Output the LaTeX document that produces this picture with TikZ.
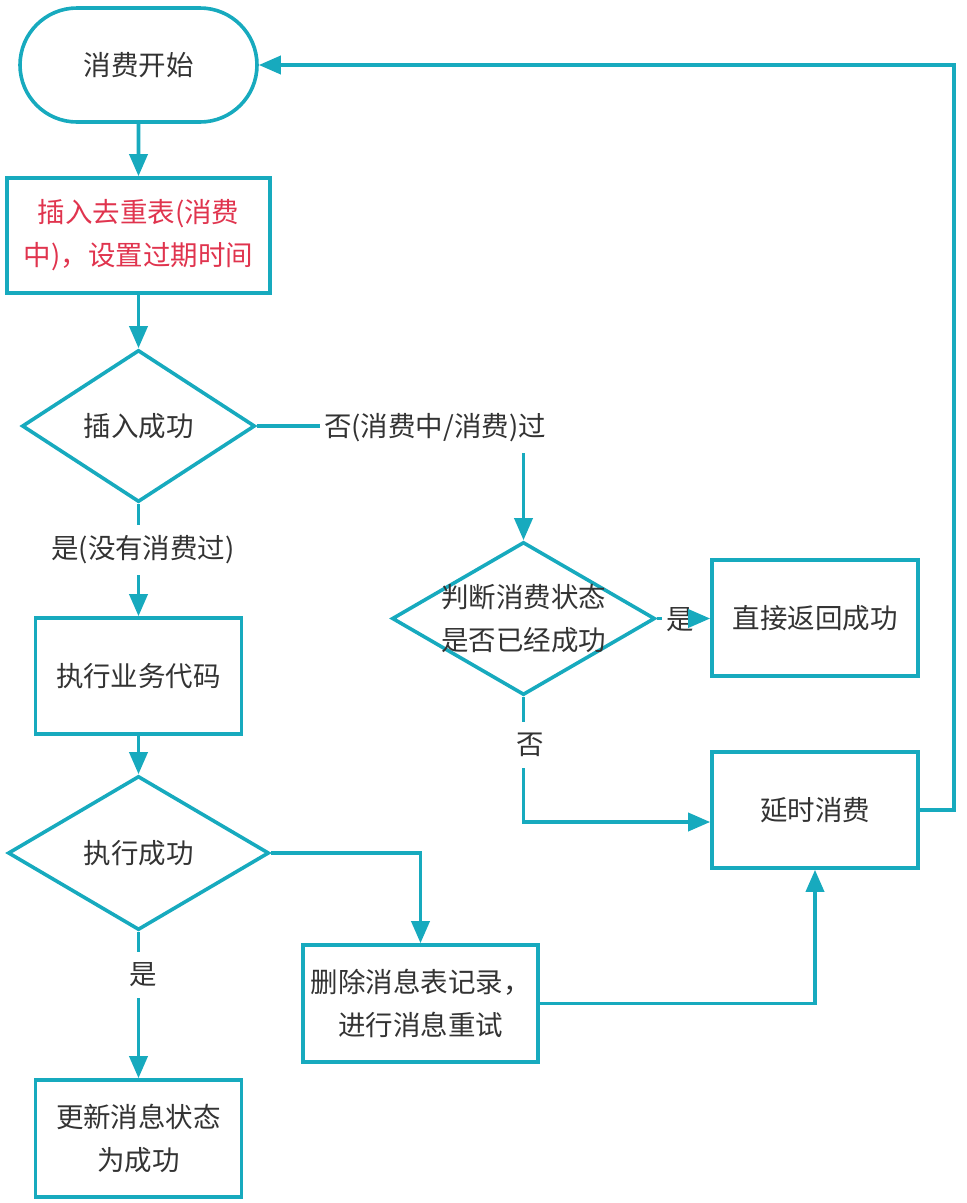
\documentclass[tikz,border=0pt]{standalone}
\usepackage{fontspec}
\usepackage{color}
\setmainfont{Noto Sans CJK SC}
\usetikzlibrary{shapes.geometric,shapes.misc,arrows.meta,calc}

\definecolor{flowteal}{RGB}{23,170,190}
\definecolor{flowred}{RGB}{224,52,78}
\definecolor{flowtext}{RGB}{51,51,51}

\tikzset{
  flow/.style={draw=flowteal,line width=3.6pt,text=flowtext,font=\fontsize{27.5}{43}\selectfont,align=center,inner sep=0pt},
  box/.style={flow,rectangle,minimum width=#1,minimum height=116pt},
  box/.default=206pt,
  choice/.style 2 args={flow,diamond,minimum width=#1,minimum height=#2},
  startstop/.style={flow,rounded rectangle,minimum width=237pt,minimum height=114pt},
  edgelabel/.style={text=flowtext,font=\fontsize{27.5}{43}\selectfont,inner xsep=4pt,inner ysep=11pt},
  link/.style={draw=flowteal,line width=3.6pt},
  arrow/.style={link,-{Triangle[length=22pt,width=18pt]}}
}

\begin{document}
\begin{tikzpicture}[x=1pt,y=1pt,yscale=-1]
\useasboundingbox (0,0) rectangle (967,1203);

\draw (138.5,65) node [startstop] (start) {消费开始};
\draw (138.5,235.5) node [box=263pt,minimum height=115pt,text=flowred] (dedup) {插入去重表(消费\\中)，设置过期时间};
\draw (138.5,426) node [choice={233pt}{152pt}] (inserted) {插入成功};
\draw (138.5,676) node [box] (business) {执行业务代码};
\draw (138.5,853) node [choice={261pt}{154pt}] (executed) {执行成功};
\draw (138.5,1138.5) node [box,minimum height=117pt] (update) {更新消息状态\\为成功};
\draw (420.5,1003.5) node [box=235pt,minimum height=117pt] (retry) {删除消息表记录，\\进行消息重试};
\draw (523.5,618.5) node [choice={263pt}{153pt},label={[edgelabel,align=center,inner sep=0pt]center:判断消费状态\\是否已经成功}] (check) {};
\draw (815,618) node [box] (done) {直接返回成功};
\draw (815,810) node [box] (delay) {延时消费};

\draw (143,550) node [edgelabel] (yesnew) {是(没有消费过)};
\draw (435,428) node [edgelabel] (noseen) {否(消费中/消费)过};
\draw (680,620) node [edgelabel] (yesok) {是};
\draw (530,745) node [edgelabel] (nook) {否};
\draw (143,975) node [edgelabel] (yesrun) {是};

\draw [arrow] (start) -- (dedup);
\draw [arrow] (dedup) -- (inserted);
\draw [link] (inserted.south) -- (inserted.south |- yesnew.north);
\draw [arrow] (inserted.south |- yesnew.south) -- (business.north);
\draw [arrow] (business) -- (executed);
\draw [link] (executed.south) -- (executed.south |- yesrun.north);
\draw [arrow] (executed.south |- yesrun.south) -- (update.north);

\draw [link] (inserted.east) -- (inserted.east -| noseen.west);
\draw [arrow] (noseen.south -| check.north) -- (check.north);
\draw [link] (check.east) -- (check.east -| yesok.west);
\draw [arrow] (check.east -| yesok.east) -- (check.east -| done.west);
\draw [link] (check.south) -- (check.south |- nook.north);
\draw [arrow] (check.south |- nook.south) |- ($(delay.west)+(0,12)$);

\draw [arrow] (executed.east) -| (retry.north);
\draw [arrow] (retry.east) -| (delay.south);
\draw [arrow] (delay.east) -- ++(34,0) |- (start.east);
\end{tikzpicture}
\end{document}
